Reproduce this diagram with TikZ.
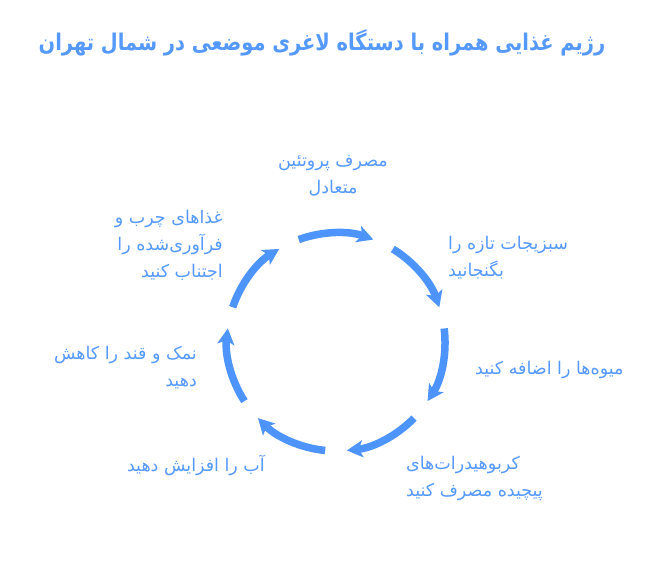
\documentclass[tikz,border=0pt]{standalone}
\usepackage{fontspec}
\setmainfont{DejaVu Sans}
\newfontfamily\fa[Script=Arabic]{DejaVu Sans}
\TeXXeTstate=1
\usetikzlibrary{arrows.meta,calc}
\definecolor{flowblue}{HTML}{4D94FF}
\definecolor{txtblue}{HTML}{5599FF}
\tikzset{
  flow/.style={draw=flowblue, line width=7.5pt, -{Stealth[length=16pt,width=17pt,inset=4pt]}},
  lab/.style={text=txtblue, inner sep=0pt, font=\fa\fontsize{17.5}{27}\selectfont},
  ttl/.style={text=txtblue, inner sep=0pt, font=\fa\bfseries\fontsize{23}{26}\selectfont}
}
\begin{document}
\begin{tikzpicture}[x=1pt,y=1pt]
\useasboundingbox (0,0) rectangle (665,563);
\coordinate (c) at (336,221);
\def\R{109}
\node[ttl] (title) at (322,520) {\scalebox{0.845}[1]{\beginR رژیم غذایی همراه با دستگاه لاغری موضعی در شمال تهران\endR}};
\foreach \i in {0,...,6}{
  \pgfmathsetmacro{\phi}{90-\i*360/7}
  \pgfmathsetmacro{\sa}{\phi+20}
  \pgfmathsetmacro{\ea}{\phi-20}
  \coordinate (s\i) at ($(c)+(\sa:\R)$);
  \draw[flow] (s\i) arc[start angle=\sa, end angle=\ea, radius=\R];
}
\node[lab, align=center] (l1) at (333,387) {\beginR مصرف پروتئین\endR\\\beginR متعادل\endR};
\node[lab, align=left, anchor=west] (l2) at (448,305) {\beginR سبزیجات تازه را\endR\\\beginR بگنجانید\endR};
\node[lab, anchor=west] (l3) at (475,193) {\beginR میوه‌ها را اضافه کنید\endR};
\node[lab, align=left, anchor=west] (l4) at (406,85) {\beginR کربوهیدرات‌های\endR\\\beginR پیچیده مصرف کنید\endR};
\node[lab, anchor=east] (l5) at (265,98) {\beginR آب را افزایش دهید\endR};
\node[lab, align=right, anchor=east] (l6) at (197,195) {\beginR نمک و قند را کاهش\endR\\\beginR دهید\endR};
\node[lab, align=right, anchor=east] (l7) at (223,318) {\beginR غذاهای چرب و\endR\\\beginR فرآوری‌شده را\endR\\\beginR اجتناب کنید\endR};
\end{tikzpicture}
\end{document}
